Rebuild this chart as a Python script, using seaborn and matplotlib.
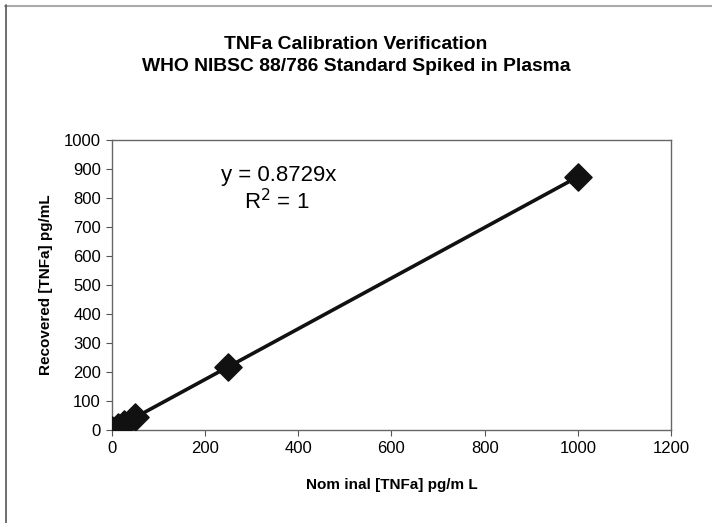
import numpy as np
import pandas as pd
import matplotlib
matplotlib.use('Agg')
import matplotlib.pyplot as plt
import seaborn as sns

# values
nominal = [0, 12.5, 25, 50, 250, 1000]
recovered = [0, 11, 22, 44, 218, 873]
x_ticks = [0, 200, 400, 600, 800, 1000, 1200]
y_ticks = [0, 100, 200, 300, 400, 500, 600, 700, 800, 900, 1000]

df = pd.DataFrame({'nominal': nominal, 'recovered': recovered})

# trendline through the origin
slope = np.sum(df['nominal'] * df['recovered']) / np.sum(df['nominal'] ** 2)
fit = pd.DataFrame({'nominal': [0, max(nominal)]})
fit['recovered'] = slope * fit['nominal']

sns.set_style('white')
plt.rcParams['font.family'] = ['Liberation Sans', 'DejaVu Sans']
plt.rcParams['text.color'] = 'black'
plt.rcParams['axes.labelcolor'] = 'black'
plt.rcParams['xtick.color'] = 'black'
plt.rcParams['ytick.color'] = 'black'

fig = plt.figure(figsize=(7.12, 5.23), dpi=100)
ax = fig.add_axes([0.1573, 0.1778, 0.7851, 0.5545])

sns.lineplot(data=fit, x='nominal', y='recovered', ax=ax, color='#111111', lw=2.6)
sns.scatterplot(data=df, x='nominal', y='recovered', ax=ax, marker='D', s=190,
                color='#111111', edgecolor='#111111', zorder=3)

ax.set_xlim(0, 1200)
ax.set_ylim(0, 1000)
ax.set_xticks(x_ticks)
ax.set_yticks(y_ticks)
ax.tick_params(direction='out', length=4, width=0.8, color='#555555',
               labelsize=12, left=True, bottom=True, pad=4)
for s in ax.spines.values():
    s.set_linestyle((0, (1, 1)))
    s.set_color('#666666')
    s.set_linewidth(1)

ax.set_xlabel('Nom inal [TNFa] pg/m L', fontsize=11, fontweight='bold', labelpad=16)
ax.set_ylabel('Recovered [TNFa] pg/mL', fontsize=11, fontweight='bold', labelpad=8)

fig.text(0.5, 0.894, 'TNFa Calibration Verification\nWHO NIBSC 88/786 Standard Spiked in Plasma',
         ha='center', va='center', fontsize=13.9, fontweight='bold', linespacing=1.4)

ax.text(358, 879, 'y = 0.8729x', ha='center', va='center', fontsize=16)
ax.text(354, 786, 'R$^2$ = 1', ha='center', va='center', fontsize=16)

# outer chart border (only top/left visible in the original crop)
fig.add_artist(plt.Line2D([5 / 712, 1], [1 - 5.5 / 523, 1 - 5.5 / 523], color='#aaaaaa', lw=1.5))
fig.add_artist(plt.Line2D([5.5 / 712, 5.5 / 712], [0, 1 - 5 / 523], color='#555555', lw=1.2))

fig.savefig('out.png', dpi=100)
